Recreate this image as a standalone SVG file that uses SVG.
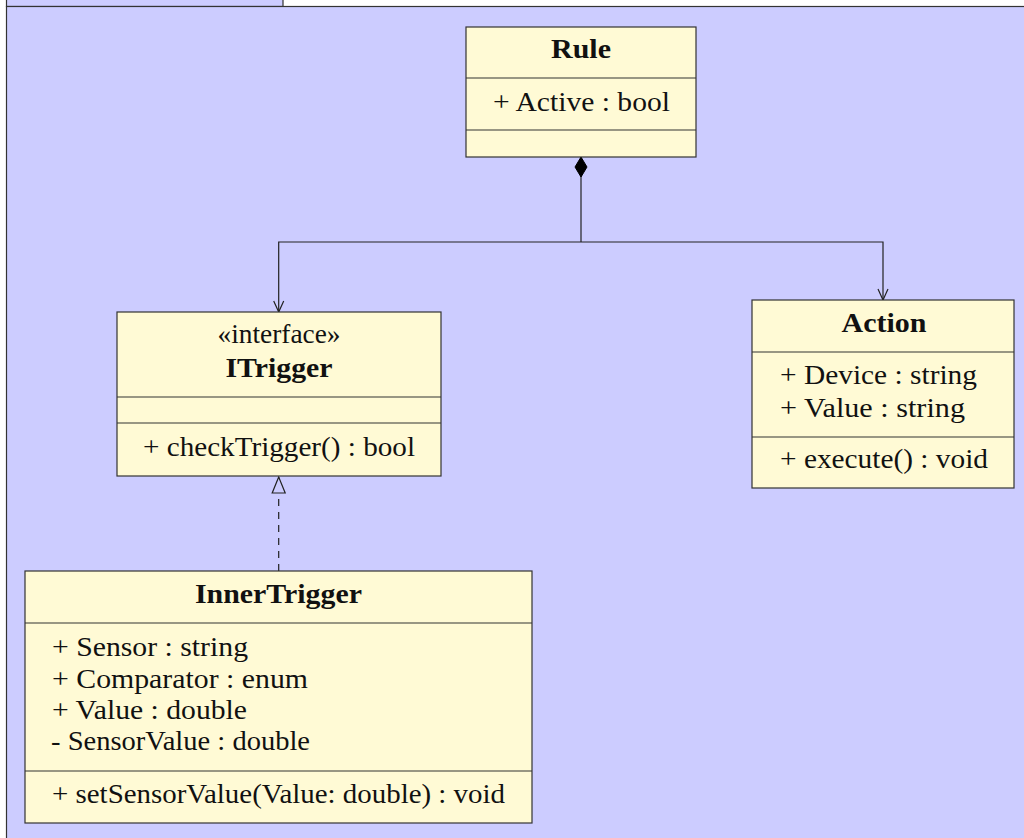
<svg xmlns="http://www.w3.org/2000/svg" width="1024" height="838" viewBox="0 0 1024 838">
<defs>
<style>
.pkg{fill:#CCCCFF;stroke:#333;stroke-width:1.2}
.box{fill:#FFFAD5;stroke:#333;stroke-width:1.2}
.div{stroke:#333;stroke-width:1.2;fill:none}
.t{font-family:"Liberation Serif","Times New Roman",serif;font-size:27px;fill:#111}
.b{font-weight:bold}
.c{text-anchor:middle}
.conn{fill:none;stroke:#222;stroke-width:1.2}
.dash{stroke-dasharray:7 6}
</style>
<marker id="arrow" markerUnits="userSpaceOnUse" markerWidth="20" markerHeight="20" refX="0" refY="0" orient="auto" overflow="visible">
<path d="M-11,-5 L0,0 L-11,5" fill="none" stroke="#222" stroke-width="1.2"/>
</marker>
<marker id="diamond" markerUnits="userSpaceOnUse" markerWidth="30" markerHeight="30" refX="0" refY="0" orient="auto-start-reverse" overflow="visible">
<path d="M0,0 L-10,-6 L-20,0 L-10,6 Z" fill="#000" stroke="#000" stroke-width="1"/>
</marker>
<marker id="tri" markerUnits="userSpaceOnUse" markerWidth="30" markerHeight="30" refX="0" refY="0" orient="auto" overflow="visible">
<path d="M0,0 L-16,-6.5 L-16,6.5 Z" fill="#CCCCFF" stroke="#222" stroke-width="1.2" stroke-dasharray="none"/>
</marker>
</defs>
<g id="package">
<rect class="pkg" x="6.5" y="-10" width="276.5" height="16.5"/>
<rect class="pkg" x="6.5" y="6.5" width="1040" height="850"/>
</g>
<g id="connectors">
<path class="conn" d="M581,157 V242" marker-start="url(#diamond)"/>
<path class="conn" d="M581,242 H278.7 V312" marker-end="url(#arrow)"/>
<path class="conn" d="M581,242 H883 V300" marker-end="url(#arrow)"/>
<path class="conn dash" d="M278.7,571 V477" marker-end="url(#tri)"/>
</g>
<g id="Rule">
<rect class="box" x="466" y="27" width="230" height="130"/>
<path class="div" d="M466,78 H696 M466,130 H696"/>
<text class="t b c" x="581" y="58" textLength="60" lengthAdjust="spacingAndGlyphs">Rule</text>
<text class="t" x="493" y="111" textLength="177" lengthAdjust="spacingAndGlyphs">+ Active : bool</text>
</g>
<g id="ITrigger">
<rect class="box" x="117" y="312" width="324" height="164"/>
<path class="div" d="M117,397 H441 M117,423 H441"/>
<text class="t c" x="279" y="343" textLength="123" lengthAdjust="spacingAndGlyphs">«interface»</text>
<text class="t b c" x="279" y="377" textLength="107" lengthAdjust="spacingAndGlyphs">ITrigger</text>
<text class="t" x="143" y="456" textLength="272" lengthAdjust="spacingAndGlyphs">+ checkTrigger() : bool</text>
</g>
<g id="Action">
<rect class="box" x="752" y="300" width="262" height="188"/>
<path class="div" d="M752,352 H1014 M752,437 H1014"/>
<text class="t b c" x="884" y="332" textLength="85" lengthAdjust="spacingAndGlyphs">Action</text>
<text class="t" x="780" y="384" textLength="197" lengthAdjust="spacingAndGlyphs">+ Device : string</text>
<text class="t" x="780" y="417" textLength="185" lengthAdjust="spacingAndGlyphs">+ Value : string</text>
<text class="t" x="780" y="468" textLength="208" lengthAdjust="spacingAndGlyphs">+ execute() : void</text>
</g>
<g id="InnerTrigger">
<rect class="box" x="25" y="571" width="507" height="252"/>
<path class="div" d="M25,623 H532 M25,771 H532"/>
<text class="t b c" x="278.5" y="603" textLength="167" lengthAdjust="spacingAndGlyphs">InnerTrigger</text>
<text class="t" x="52" y="656" textLength="196" lengthAdjust="spacingAndGlyphs">+ Sensor : string</text>
<text class="t" x="52" y="688" textLength="256" lengthAdjust="spacingAndGlyphs">+ Comparator : enum</text>
<text class="t" x="52" y="719" textLength="195" lengthAdjust="spacingAndGlyphs">+ Value : double</text>
<text class="t" x="51" y="750" textLength="259" lengthAdjust="spacingAndGlyphs">- SensorValue : double</text>
<text class="t" x="52" y="803" textLength="453" lengthAdjust="spacingAndGlyphs">+ setSensorValue(Value: double) : void</text>
</g>
</svg>
